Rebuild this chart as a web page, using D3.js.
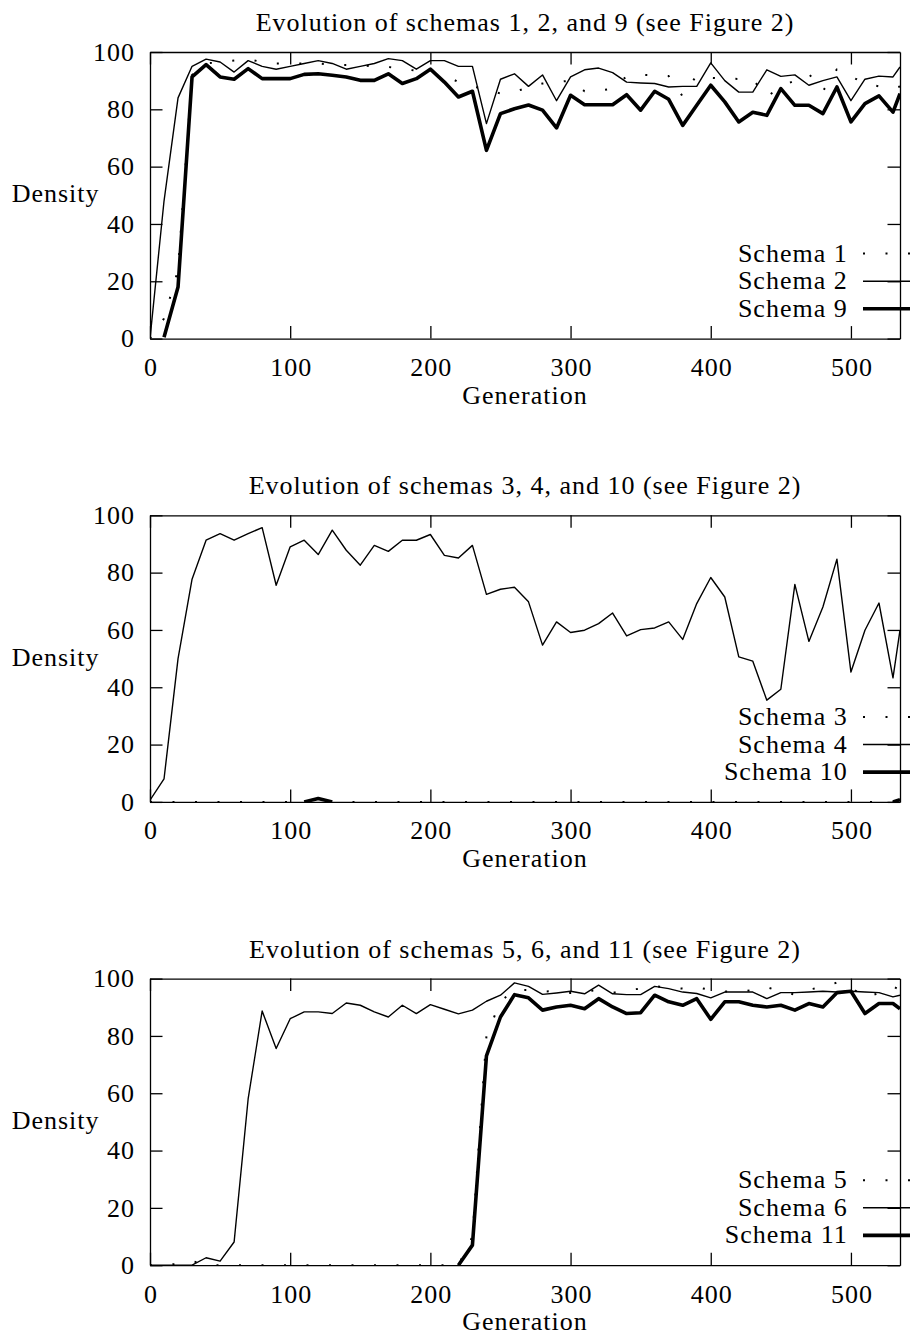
<!DOCTYPE html>
<html lang="en">
<head>
<meta charset="utf-8">
<script src="https://d3js.org/d3.v7.min.js"></script>
<title>Evolution of schemas</title>
<style>
    body { margin: 0; background: white; }
    svg { display: block; }
    text { font-family: "Liberation Serif", serif; font-size: 26px; letter-spacing: 1px; fill: black; }
</style>
</head>
<body>
<svg width="910" height="1338"></svg>
<script>

// generation numbers shared by every series
const generations = [0,10,20,30,40,50,60,70,80,90,100,110,120,130,140,150,160,170,180,190,
    200,210,220,230,240,250,260,270,280,290,300,310,320,330,340,350,360,370,380,390,
    400,410,420,430,440,450,460,470,480,490,500,510,520,530,535]

// panel 1
const schema1 = [0,7,24,92,96,96.5,97,97.5,96.5,96,96,96,96,95.5,95.5,95.3,95,94.8,94,93.5,
    93,92,89.5,88,87,85.5,86,87.8,89,89.5,90,86.3,86.5,87.2,91.5,92,91.9,91.6,84.5,91.9,
    91,90.7,90.6,90.5,84.3,88,90,92.4,86.3,94,91.5,89,88,87.2,88]
const schema2 = [0,48,84,95,97.5,96.5,93,97,95,94,95,96,97,96,94,95,96,97.7,97,94,
    97,97,95,95,75,90.5,92.4,88,92,83,91.3,93.8,94.4,92.8,89.5,89.2,89,87.8,88,88,
    96.2,90,86,86,93.8,91.5,92,88.4,90,91.3,83,90.5,91.6,91.3,94.8]
const schema9 = [null,0.5,18,91.3,95.6,91.3,90.5,94.2,90.7,90.7,90.7,92.2,92.4,91.9,91.3,90.1,90.1,92.4,89,90.7,
    94,89.5,84.3,86.3,65.7,78.5,80.2,81.5,79.7,73.5,84.9,81.6,81.6,81.6,85.1,79.7,86.3,83.5,74.4,81.4,
    88.4,82.6,75.6,79,77.9,87.2,81.4,81.4,78.5,87.8,75.6,82,84.7,79,85.5]

// panel 2
const schema3 = [0,0,0,0,0,0,0,0,0,0,0,0,0,0,0,0,0,0,0,0,
    0,0,0,0,0,0,0,0,0,0,0,0,0,0,0,0,0,0,0,0,
    0,0,0,0,0,0,0,0,0,0,0,0,0,0,0]
const schema4 = [0.6,8,50,77.7,91.3,93.6,91.3,93.6,95.7,75.6,89,91.3,86.3,94.8,87.8,82.6,89.5,87.4,91.3,91.3,
    93.3,86,85.1,89.5,72.4,74.2,74.9,69.8,54.7,62.8,59.1,59.9,62.2,65.9,57.9,60.1,60.7,62.8,56.7,69.2,
    78.3,71.5,50.6,49.1,35.5,39.3,75.9,56,68,84.7,45.3,59.9,69.4,43.3,59.9]
const schema10 = [null,null,null,null,null,null,null,null,null,null,null,0,1.2,0,null,null,null,null,null,null,
    null,null,null,null,null,null,null,null,null,null,null,null,null,null,null,null,null,null,null,null,
    null,null,null,null,null,null,null,null,null,null,null,null,null,0,0.8]

// panel 3
const schema5 = [0,0,0.5,1.5,0,0,0,0,0,0,0,0,0,0,0,0,0,0,0,0,
    0,0,0,10,80,92,96,96,95.5,95.6,95,96,95.6,95,96,96.5,97.3,97,96.5,97,
    96,95.5,95.3,96,97,95.5,94.4,96.2,97,98.6,97,93.3,95,97.3,96]
const schema6 = [0,0,0,0,2.6,1.4,8.1,58,88.7,75.6,86,88.4,88.4,87.8,91.5,90.7,88.4,86.6,90.7,87.8,
    90.9,89.3,87.7,89,92.1,94.2,98.5,97.3,94.5,95,95.6,94.7,97.7,94.7,94.4,94.4,97.3,96.5,95.3,94.8,
    93.3,95.3,95.3,95.3,93,95.1,95.1,95.3,95.6,95.3,95.6,95.3,95.1,93.6,94.2]
const schema11 = [null,null,null,null,null,null,null,null,null,null,null,null,null,null,null,null,null,null,null,null,
    null,null,0,7,73,86.6,94.4,93.3,89,90.1,90.7,89.5,93,90.1,87.8,88.1,94.2,91.9,90.7,93,
    85.8,91.9,91.9,90.7,90.1,90.7,89,91.3,90.1,95.1,95.6,87.8,91.3,91.3,89.5]

const titles = ["Evolution of schemas 1, 2, and 9 (see Figure 2)",
                "Evolution of schemas 3, 4, and 10 (see Figure 2)",
                "Evolution of schemas 5, 6, and 11 (see Figure 2)"]
const legendNames = [["Schema 1","Schema 2","Schema 9"],
                     ["Schema 3","Schema 4","Schema 10"],
                     ["Schema 5","Schema 6","Schema 11"]]
const panelSeries = [[schema1, schema2, schema9],
                     [schema3, schema4, schema10],
                     [schema5, schema6, schema11]]
const xTicks = [0,100,200,300,400,500]
const yTicks = [0,20,40,60,80,100]

const svg = d3.select("svg")
let margins = {left:150, right:10, top:52, plotHeight:286.6, step:463.3}

// dotted / thin / heavy, in the gnuplot order
const styles = [
    {width:2, dash:"2 20.5"},
    {width:1.4, dash:null},
    {width:3.6, dash:null}
]

xScale = d3.scaleLinear().domain([0, 535]).range([margins.left, 910 - margins.right])

panelSeries.forEach(function(series, p) {
    let top = margins.top + p*margins.step
    let bottom = top + margins.plotHeight
    let yScale = d3.scaleLinear().domain([0, 100]).range([bottom, top])

    let g = svg.append("g")

    svg.append("clipPath").attr("id", "clip"+p)
        .append("rect")
        .attr("x", xScale(0)).attr("y", top)
        .attr("width", xScale(535) - xScale(0)).attr("height", bottom - top)

    // series lines
    let line = d3.line()
        .defined(d => d[1] !== null)
        .x(d => xScale(d[0]))
        .y(d => yScale(d[1]))

    series.forEach(function(values, i) {
        let pts = generations.map((gen, k) => [gen, values[k]])
        g.append("path")
            .datum(pts)
            .attr("clip-path", "url(#clip"+p+")")
            .attr("d", line)
            .attr("fill", "none")
            .attr("stroke", "black")
            .attr("stroke-width", styles[i].width)
            .attr("stroke-dasharray", styles[i].dash)
            .attr("stroke-linejoin", "round")
    })

    // frame with inward ticks on all four sides
    let tick = 12.5
    let axes = [
        g.append("g").attr("transform", "translate(0,"+bottom+")")
            .call(d3.axisBottom(xScale).tickValues(xTicks).tickSize(-tick).tickSizeOuter(0).tickPadding(19)),
        g.append("g").attr("transform", "translate(0,"+top+")")
            .call(d3.axisTop(xScale).tickValues(xTicks).tickSize(-tick).tickSizeOuter(0).tickFormat("")),
        g.append("g").attr("transform", "translate("+xScale(0)+",0)")
            .call(d3.axisLeft(yScale).tickValues(yTicks).tickSize(-tick).tickSizeOuter(0).tickPadding(16)),
        g.append("g").attr("transform", "translate("+xScale(535)+",0)")
            .call(d3.axisRight(yScale).tickValues(yTicks).tickSize(-tick).tickSizeOuter(0).tickFormat(""))
    ]
    axes.forEach(function(a) {
        a.attr("font-family", null).attr("font-size", null)
        a.selectAll("path").attr("stroke", "black").attr("stroke-width", 1.3)
        a.selectAll("line").attr("stroke", "black").attr("stroke-width", 1.3)
        a.selectAll("text").attr("fill", "black")
    })
    axes[0].selectAll("text").attr("dx", "0.5px")
    axes[2].selectAll("text").attr("dx", "1px")

    // titles and axis names
    g.append("text").attr("x", xScale(267.5)).attr("y", top - 21)
        .attr("text-anchor", "middle").text(titles[p])
    g.append("text").attr("x", 11.7).attr("y", (top + bottom)/2 + 7)
        .text("Density")
    g.append("text").attr("x", xScale(267.5)).attr("y", bottom + 65)
        .attr("text-anchor", "middle").text("Generation")

    // legend
    legendNames[p].forEach(function(name, i) {
        let ly = bottom - 85 + i*27.6
        g.append("text").attr("x", 847.7).attr("y", ly + 8)
            .attr("text-anchor", "end").text(name)
        g.append("line")
            .attr("x1", 863).attr("x2", 910)
            .attr("y1", ly).attr("y2", ly)
            .attr("stroke", "black")
            .attr("stroke-width", styles[i].width)
            .attr("stroke-dasharray", styles[i].dash)
    })
})
</script>
</body>
</html>
